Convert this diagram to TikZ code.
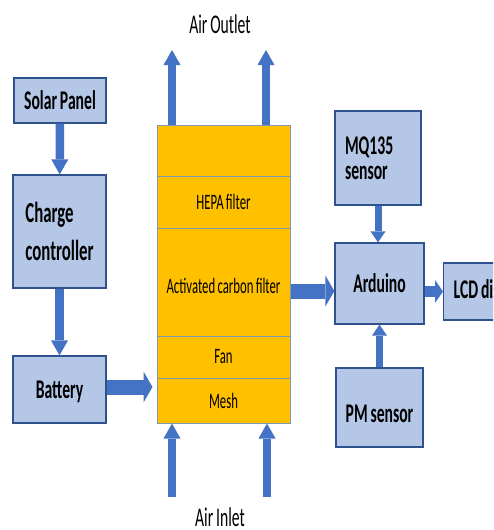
\documentclass[tikz,border=0pt]{standalone}
\usepackage{fontspec}
\setmainfont{Carlito}[FakeStretch=0.58, WordSpace=0.8]
\usetikzlibrary{arrows.meta,positioning}
\usepackage{xcolor}
\definecolor{boxblue}{HTML}{B4C7E7}
\definecolor{edgeblue}{HTML}{2F528F}
\definecolor{arrowblue}{HTML}{4472C4}
\definecolor{gold}{HTML}{FFC000}
\definecolor{layerline}{HTML}{8497B0}

\begin{document}
\begin{tikzpicture}[
    x=1pt, y=-1pt,
    block/.style={draw=edgeblue, line width=1.2pt, fill=boxblue, inner sep=0pt, align=center, font=\fontsize{27}{25}\selectfont\bfseries},
    layer/.style={draw=layerline, line width=1pt, fill=gold, minimum width=133pt, inner sep=0pt, font=\fontsize{22}{22}\selectfont},
    flow/.style={-{Triangle[length=15pt, width=17pt, line width=0pt]}, line width=8.5pt, draw=arrowblue},
    thinflow/.style={-{Triangle[length=11pt, width=15pt, line width=0pt]}, line width=7pt, draw=arrowblue},
    midflow/.style={-{Triangle[length=8pt, width=23pt, line width=0pt]}, line width=11pt, draw=arrowblue},
    bigflow/.style={-{Triangle[length=9pt, width=31pt, line width=0pt]}, line width=15pt, draw=arrowblue},
    airtext/.style={font=\fontsize{27}{28}\selectfont},
]
\useasboundingbox (0,0) rectangle (493,530);
\clip (0,0) rectangle (493,530);

\node[block, minimum width=92pt, minimum height=45pt] (solar) at (60,100.5) {Solar Panel};
\node[block, minimum width=93pt, minimum height=113pt, font=\fontsize{29}{38}\selectfont\bfseries, align=left] (charge) at (59.5,231.5) {Charge\\controller};
\node[block, minimum width=93pt, minimum height=67pt] (battery) at (59.5,389.5) {\raisebox{-2pt}[\height][\depth]{Battery}};

\node[layer, minimum height=51pt] (cover) at (223.5,150.5) {};
\node[layer, minimum height=52pt] (hepa) at (223.5,202) {HEPA filter};
\node[layer, minimum height=108pt] (carbon) at (223.5,282) {\raisebox{-4pt}[\height][\depth]{Activated carbon filter}};
\node[layer, minimum height=42pt] (fan) at (223.5,357) {Fan};
\node[layer, minimum height=45pt] (mesh) at (223.5,400.5) {Mesh};

\node[block, minimum width=86pt, minimum height=94pt, text width=66pt, align=left] (mq) at (378,158) {MQ135\\sensor};
\node[block, minimum width=89pt, minimum height=81pt] (arduino) at (379.5,283.5) {Arduino};
\node[block, minimum width=87pt, minimum height=79pt] (pm) at (379.5,407.5) {\raisebox{-6pt}[\height][\depth]{PM sensor}};
\node[block, minimum height=57pt, inner xsep=10pt, anchor=west] (lcd) at (443,291.5) {LCD display};

\node[airtext] (outlet) at (220,24) {Air Outlet};
\node[airtext] (inlet) at (220,517) {Air Inlet};

\coordinate (outL) at (172,50);
\coordinate (outR) at (266,50);
\coordinate (inL) at (172,497);
\coordinate (inR) at (267,497);

\draw[flow] (solar) -- (charge);
\draw[flow] (charge) -- (battery);
\draw[bigflow, shorten >=4pt] ([yshift=2.5pt]battery.east) -- ([yshift=2.5pt]battery.east -| mesh.west);
\draw[bigflow] ([yshift=-9pt]carbon.east) -- ([yshift=-9pt]carbon.east -| arduino.west);
\draw[midflow] (arduino.east |- lcd.west) -- (lcd.west);
\draw[thinflow] (mq.south) -- (mq.south |- arduino.north);
\draw[thinflow] (pm.north) -- (pm.north |- arduino.south);

\draw[flow] (outL |- cover.north) -- (outL);
\draw[flow] (outR |- cover.north) -- (outR);
\draw[flow] (inL) -- (inL |- mesh.south);
\draw[flow] (inR) -- (inR |- mesh.south);

\end{tikzpicture}
\end{document}
